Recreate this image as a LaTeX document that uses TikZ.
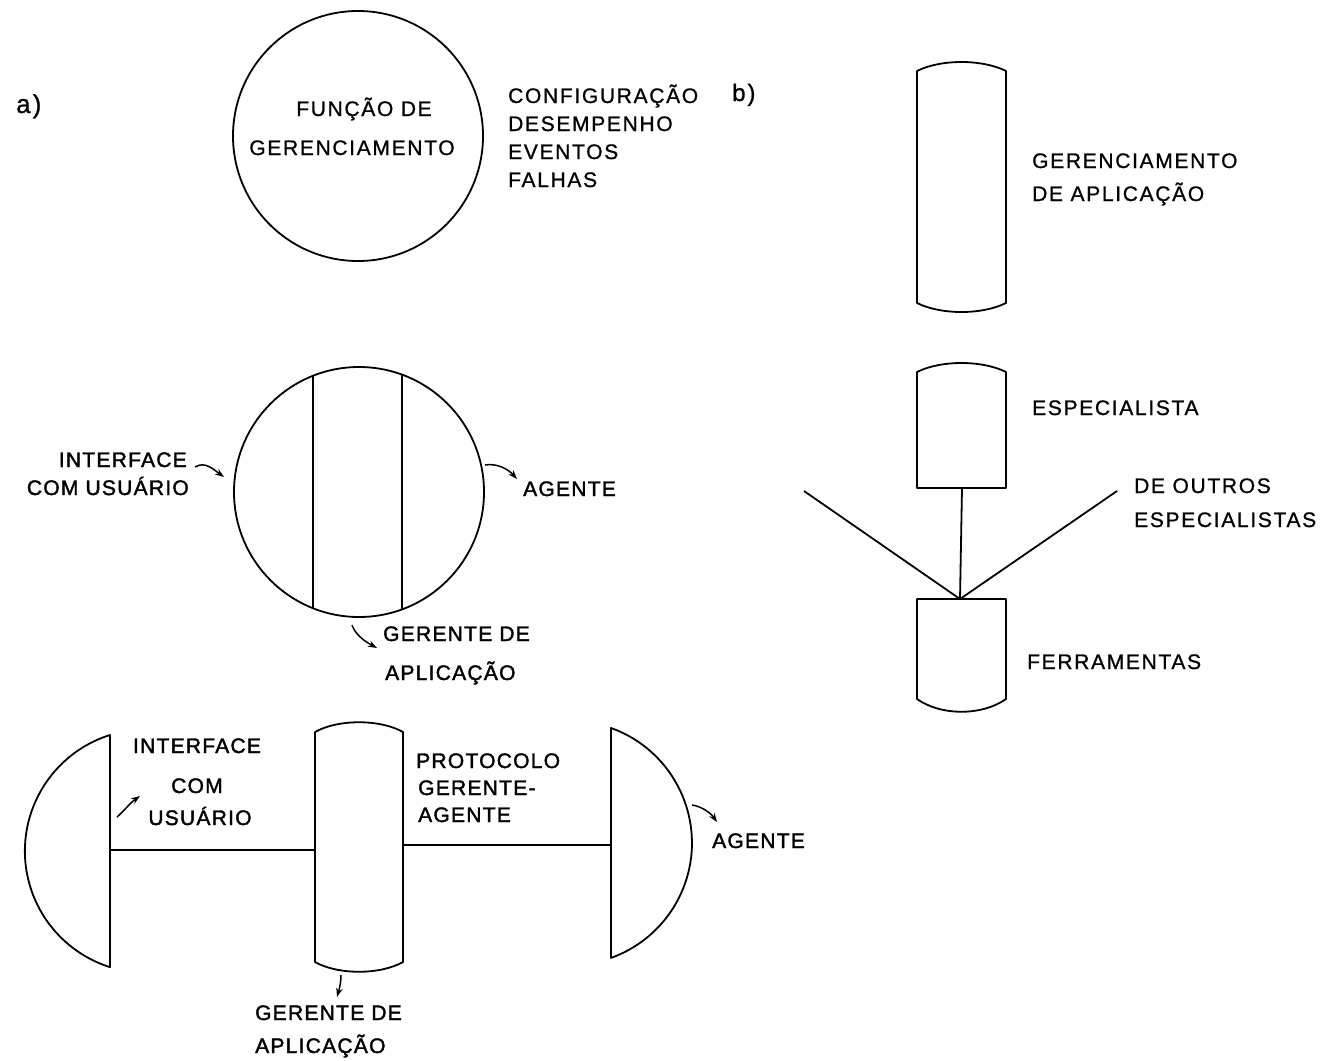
\documentclass[tikz,border=0pt]{standalone}
\usepackage{fontspec}
\newfontfamily\lab[LetterSpace=8,FakeBold=0.9]{Liberation Sans}
\newfontfamily\labh[LetterSpace=6,FakeBold=1.8]{Liberation Sans}
\usetikzlibrary{arrows.meta}
\begin{document}
\begin{tikzpicture}[x=1pt,y=-1pt,
  outl/.style={line width=1.8pt, line join=round},
  conn/.style={line width=1.8pt},
  lbl/.style={font=\lab\fontsize{21}{24}\selectfont, inner sep=0pt, anchor=base west},
  lblc/.style={font=\lab\fontsize{21}{24}\selectfont, inner sep=0pt, anchor=base},
  heavy/.style={font=\labh\fontsize{21}{24}\selectfont},
  ptr/.style={line width=1.5pt, -{Stealth[length=9pt,width=6.5pt]}}]
\useasboundingbox (0,0) rectangle (1340,1060);

% ---------- a) top circle ----------
\node[lbl, font=\lab\fontsize{26}{28}\selectfont] (la) at (16,113) {a)};
\node[circle, draw, outl, minimum size=250pt, inner sep=0pt] (c1) at (358,136) {};
\node[lblc] (f1) at (364,116) {FUNÇÃO DE};
\node[lblc] (f2) at (352,155) {GERENCIAMENTO};
\node[lbl] (l1) at (508,103) {CONFIGURAÇÃO};
\node[lbl] (l2) at (508,131) {DESEMPENHO};
\node[lbl] (l3) at (508,159) {EVENTOS};
\node[lbl] (l4) at (508,187) {FALHAS};

% ---------- a) middle circle ----------
\node[circle, draw, outl, minimum size=250pt, inner sep=0pt] (c2) at (359,492) {};
\coordinate (c2lt) at (313,375.8);
\coordinate (c2lb) at (313,608.2);
\coordinate (c2rt) at (402,374.6);
\coordinate (c2rb) at (402,609.4);
\draw[conn] (c2lt) -- (c2lb);
\draw[conn] (c2rt) -- (c2rb);
\node[lbl, heavy, anchor=base east] (i1) at (187,467) {INTERFACE};
\node[lbl, heavy, anchor=base east] (i2) at (189,495) {COM USUÁRIO};
\coordinate (a1s) at (195,467);
\coordinate (a1e) at (224,477);
\draw[ptr] (a1s) .. controls (205,461) and (213,469) .. (a1e);
\node[lbl, heavy] (ag1) at (523,496) {AGENTE};
\coordinate (a2s) at (485,465);
\coordinate (a2e) at (517,479);
\draw[ptr] (a2s) .. controls (497,463) and (508,469) .. (a2e);
\node[lbl, heavy] (g1) at (383,641) {GERENTE DE};
\node[lbl, heavy] (g2) at (385,680) {APLICAÇÃO};
\coordinate (a3s) at (352,625);
\coordinate (a3e) at (377,648);
\draw[ptr] (a3s) .. controls (355,634) and (364,641) .. (a3e);

% ---------- a) bottom ----------
\draw[outl] (110,735) arc[start angle=252.5, end angle=107.5, radius=121.7] -- cycle;
\draw[outl] (315,732) -- (315,962) .. controls (338,975) and (380,975) .. (403,962)
  -- (403,732) .. controls (380,719) and (338,719) .. (315,732) -- cycle;
\draw[outl] (611,728) arc[start angle=-70.3, end angle=70.3, radius=122.1] -- cycle;
\coordinate (ld) at (110,850);
\coordinate (cl) at (315,850);
\coordinate (cr) at (403,845);
\coordinate (rd) at (611,845);
\draw[conn] (ld) -- (cl);
\draw[conn] (cr) -- (rd);
\node[lblc, heavy] (b1) at (197,753) {INTERFACE};
\node[lblc, heavy] (b2) at (197,793) {COM};
\node[lblc, heavy] (b3) at (200,825) {USUÁRIO};
\coordinate (a4s) at (117,817);
\coordinate (a4e) at (140,796);
\draw[ptr] (a4s) .. controls (124,811) and (130,803) .. (a4e);
\node[lbl, heavy] (p1) at (416,768) {PROTOCOLO};
\node[lbl, heavy] (p2) at (418,795) {GERENTE-};
\node[lbl, heavy] (p3) at (418,822) {AGENTE};
\node[lbl, heavy] (ag2) at (712,848) {AGENTE};
\coordinate (a5s) at (692,805);
\coordinate (a5e) at (717,822);
\draw[ptr] (a5s) .. controls (700,806) and (710,812) .. (a5e);
\node[lbl, heavy] (g3) at (255,1020) {GERENTE DE};
\node[lbl, heavy] (g4) at (255,1053) {APLICAÇÃO};
\coordinate (a6s) at (341,975);
\coordinate (a6e) at (337,997);
\draw[ptr] (a6s) .. controls (341,983) and (339,990) .. (a6e);

% ---------- b) ----------
\node[lbl, font=\lab\fontsize{24}{28}\selectfont] (lb) at (732,101) {b)};
\draw[outl] (917,71) -- (917,303) .. controls (941,315) and (982,315) .. (1006,303)
  -- (1006,71) .. controls (982,59) and (941,59) .. (917,71) -- cycle;
\node[lbl] (m1) at (1032,168) {GERENCIAMENTO};
\node[lbl] (m2) at (1032,201) {DE APLICAÇÃO};
\draw[outl] (917,372) -- (917,488) -- (1006,488) -- (1006,372)
  .. controls (982,360) and (941,360) .. (917,372) -- cycle;
\node[lbl] (e1) at (1032,415) {ESPECIALISTA};
\draw[outl] (917,599) -- (917,699) .. controls (941,716) and (982,716) .. (1006,699)
  -- (1006,599) -- cycle;
\node[lbl] (fe) at (1027,669) {FERRAMENTAS};
\coordinate (eb) at (962,488);
\coordinate (ft) at (960,599);
\coordinate (oL) at (804,491);
\coordinate (oR) at (1117,491);
\draw[conn] (eb) -- (ft);
\draw[conn] (oL) -- (ft);
\draw[conn] (oR) -- (ft);
\node[lbl] (o1) at (1134,493) {DE OUTROS};
\node[lbl] (o2) at (1134,527) {ESPECIALISTAS};
\end{tikzpicture}
\end{document}
